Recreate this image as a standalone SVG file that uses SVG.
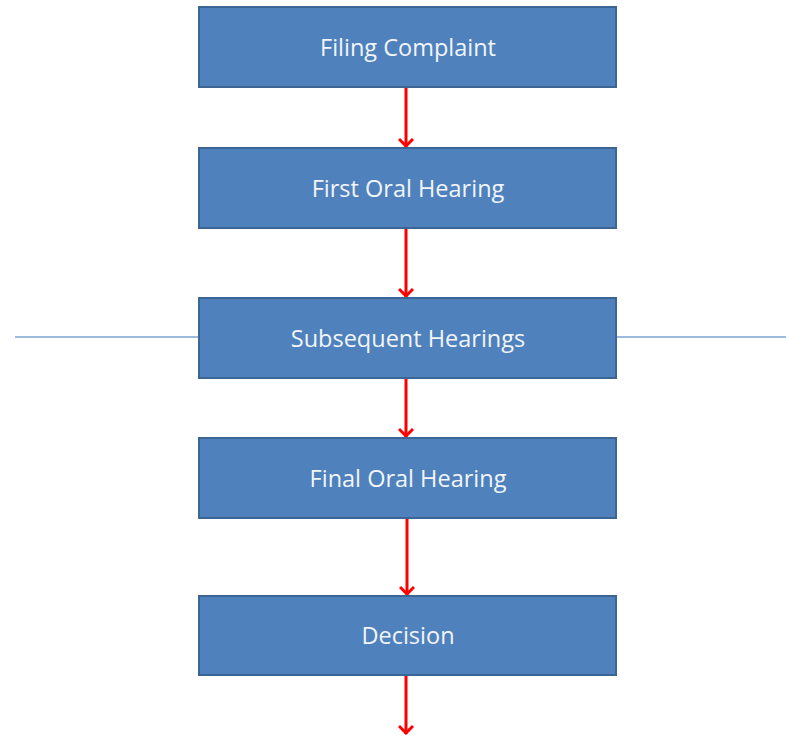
<svg xmlns="http://www.w3.org/2000/svg" width="786" height="737" viewBox="0 0 786 737">
<style>
.box{fill:#4F81BD;stroke:#3A6595;stroke-width:2}
.lbl{font-family:"Open Sans","Liberation Sans",sans-serif;font-size:23.5px;fill:#F2F5FA;text-anchor:middle;dominant-baseline:central}
.arr{stroke:#FF0000;stroke-width:3;fill:none;marker-end:url(#ah)}
</style>
<defs>
<marker id="ah" viewBox="0 0 14 16" refX="13" refY="8" markerWidth="14" markerHeight="16" markerUnits="userSpaceOnUse" orient="auto">
<path d="M5,1 L12,8 L5,15" fill="none" stroke="#FF0000" stroke-width="3"/>
</marker>
</defs>
<rect width="786" height="737" fill="#FFFFFF"/>
<line x1="15" y1="337" x2="786" y2="337" stroke="#7BA3CF" stroke-width="1.5"/>
<g id="connectors">
<path class="arr" d="M406,88 L406,147"/>
<path class="arr" d="M406,229 L406,297"/>
<path class="arr" d="M406,379 L406,437"/>
<path class="arr" d="M407,519 L407,595"/>
<path class="arr" d="M406,676 L406,734"/>
</g>
<g id="n1"><rect class="box" x="199" y="7" width="417" height="80"/><text class="lbl" x="408" y="47">Filing Complaint</text></g>
<g id="n2"><rect class="box" x="199" y="148" width="417" height="80"/><text class="lbl" x="408" y="188">First Oral Hearing</text></g>
<g id="n3"><rect class="box" x="199" y="298" width="417" height="80"/><text class="lbl" x="408" y="338">Subsequent Hearings</text></g>
<g id="n4"><rect class="box" x="199" y="438" width="417" height="80"/><text class="lbl" x="408" y="478">Final Oral Hearing</text></g>
<g id="n5"><rect class="box" x="199" y="596" width="417" height="79"/><text class="lbl" x="408" y="635">Decision</text></g>
</svg>
